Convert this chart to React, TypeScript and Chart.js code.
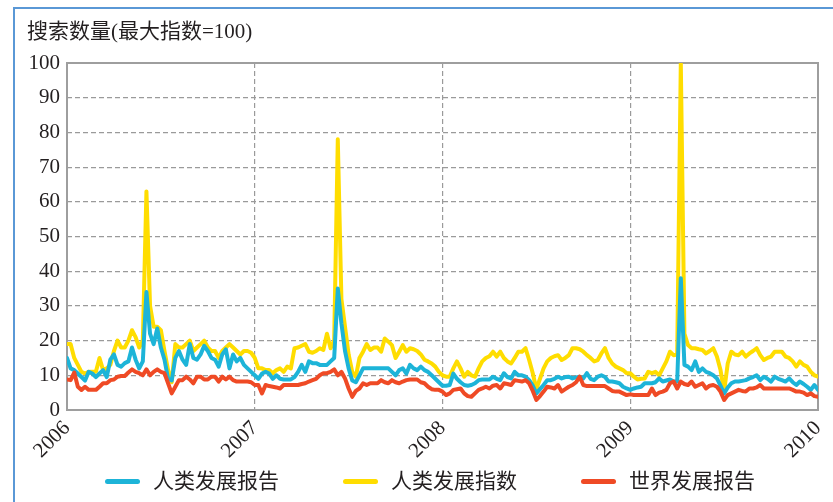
import { useEffect, useRef } from 'react';
import { Chart, registerables } from 'chart.js';
Chart.register(...registerables);

// ---- data (weekly, Jan 2006 .. Jan 2010, 209 weeks) ----
const yearTicks = ['2006', '2007', '2008', '2009', '2010'];
const weeksPerYear = 52;

const seriesNames = ['人类发展报告', '人类发展指数', '世界发展报告'];
const seriesColors = ['#1db4d8', '#ffdd00', '#ef4a25'];

// 人类发展报告
const hdrReport = [
  15, 12, 11.5, 10.5, 9.5, 8.5, 11, 10.5, 9.5, 10.5,
  11.5, 9.5, 14.5, 16, 13, 12.5, 13.5, 14, 18, 14.5,
  12, 14, 34, 22, 19, 23.5, 18, 14.5, 9, 8.5,
  15, 17, 14.5, 13, 19, 15, 14.5, 16, 18.5, 17,
  15, 14.5, 12.5, 16, 17.5, 12, 16, 14, 15, 13,
  12, 11, 10,
  9, 10.5, 11, 10.5, 9, 10, 9, 8.8, 8.8, 8.8,
  9.5, 11, 13, 11, 14, 13.5, 13.5, 13, 13, 13,
  14, 15, 35, 25, 17, 12, 8.5, 8, 10, 12,
  12, 12, 12, 12, 12, 12, 12, 11, 10, 11.5,
  12, 10.5, 13, 12, 11.5, 12.5, 11.5, 11, 10, 9,
  8, 7,
  7, 7.2, 10.5, 9, 8, 7.2, 7, 7.2, 7.7, 8.6,
  8.8, 8.8, 8.8, 9.6, 9, 8.6, 10.6, 9.5, 9.1, 11,
  10, 10, 9.6, 8.6, 7, 4.8, 6, 7.2, 8.6, 8.6,
  9, 9.6, 9.1, 9.5, 9.6, 9.1, 9.4, 9.6, 9.1, 10.6,
  9, 8.6, 9.6, 10, 9.5, 8.2, 8.2, 8, 7.7, 6.7,
  6.2, 5.8,
  6.2, 6.5, 6.7, 7.7, 7.7, 7.7, 8, 9.1, 8.2, 8.5,
  8.8, 8.2, 8.2, 38, 13, 12.5, 11.5, 14, 11, 12,
  11, 10.6, 10, 9.1, 7, 4.8, 6.5, 7.7, 8.2, 8.2,
  8.4, 8.6, 9.1, 9.5, 10, 8.6, 9.6, 9, 8.2, 9.6,
  9, 8.6, 8.2, 9.1, 8, 7.2, 8.2, 7.5, 6.7, 5.8,
  7.2, 5.8,
];

// 人类发展指数
const hdiIndex = [
  19, 19, 15, 13, 11, 10.5, 11, 11, 11, 15,
  11.5, 12, 13, 17, 20, 18, 18, 20, 23, 21,
  18, 20, 63, 30, 24, 24, 23, 17, 11.5, 8,
  19, 18, 18, 19, 20, 17, 18, 19, 20, 18,
  17, 17, 15, 17, 18, 19, 18, 17, 16, 17,
  17, 16.5, 15,
  12, 12, 11.5, 11.5, 10.6, 11.5, 12, 11, 12.5, 12,
  17.8, 18, 18.5, 19, 16.8, 16.5, 17, 17.8, 17.3, 22,
  17.8, 20, 78, 32, 24, 16, 11, 9.6, 15, 16.8,
  19, 17.3, 18, 18, 16.8, 20.6, 19.7, 18.7, 15, 16.8,
  18.7, 16.8, 17.8, 17.5, 17, 16, 14.5, 14, 13.4, 12.5,
  11, 10,
  9.6, 9.6, 12, 14, 12, 9.6, 11, 10, 9.6, 12,
  14, 15, 15.5, 16.8, 15.4, 16.8, 15, 14, 13.4, 15,
  16.8, 16.8, 17.8, 14.4, 10.6, 6, 9, 12, 14, 15,
  15.5, 15.8, 14.4, 15, 15.8, 17.8, 17.8, 17.5, 16.8, 15.8,
  15, 14, 14.4, 16.3, 17.8, 15, 13.4, 12.5, 12, 11.5,
  10.6, 10.6,
  9.6, 8.8, 9, 9.1, 11, 10.6, 11, 10, 12, 14,
  16.8, 15.8, 16, 100, 22, 18.7, 17.8, 17.8, 17.5, 17.3,
  16.3, 17, 17.8, 15.4, 11.5, 5.3, 13.4, 16.8, 16, 15.8,
  16.8, 15.4, 16.3, 17, 17.8, 15.8, 14.4, 15, 15.4, 16.8,
  16.8, 16.8, 15.4, 15, 14, 12.5, 14, 13, 12.5, 11,
  10, 9.6,
];

// 世界发展报告
const wdrReport = [
  8.8, 8.6, 10.8, 6.7, 5.8, 6.7, 5.8, 5.8, 5.8, 6.7,
  7.7, 7.7, 8.6, 8.8, 9.6, 9.8, 9.8, 10.8, 11.7, 11,
  10.6, 10, 11.7, 10, 11, 11.7, 11, 10.6, 7.7, 4.8,
  6.7, 8.6, 8.6, 9.6, 8.8, 7.7, 9.6, 9.6, 8.8, 8.8,
  9.6, 9.6, 8.2, 9.6, 8.8, 9.6, 8.6, 8.2, 8.2, 8.2,
  8.2, 8, 7.2,
  7.2, 4.8, 7.2, 6.9, 6.7, 6.5, 6.2, 7.2, 7.2, 7.2,
  7.2, 7.2, 7.5, 7.7, 8.2, 8.6, 9, 10, 10.6, 10.6,
  11, 11.7, 10, 11, 9.1, 6.2, 3.8, 5.5, 6.2, 7.7,
  7.2, 7.7, 7.7, 7.7, 8.6, 8, 7.7, 8.6, 8, 7.7,
  8.2, 8.6, 8.8, 8.8, 8.8, 8, 7.7, 6.7, 6, 5.8,
  5.8, 5.3,
  4.3, 4.8, 5.8, 6, 6.2, 4.8, 4, 3.8, 4.8, 5.8,
  6.2, 6.7, 6.2, 7, 7.2, 6.2, 7.7, 7.5, 7.2, 8.6,
  8.4, 8.2, 8.6, 7.7, 5.5, 2.9, 4, 5.3, 6.7, 6.5,
  6.2, 7.2, 5.3, 6, 6.7, 7.2, 8, 9.6, 7.2, 6.9,
  6.9, 6.9, 6.9, 6.9, 6.9, 6.2, 5.5, 5.3, 5.3, 4.8,
  4.3, 4.5,
  4.3, 4.3, 4.3, 4.3, 4.3, 6.2, 4.3, 5, 5.3, 5.8,
  7.7, 8.2, 6.2, 8.2, 7.5, 7.2, 8.2, 6.7, 7.2, 7.7,
  6.2, 7, 7.2, 6.7, 5.3, 2.9, 4.3, 4.8, 5.3, 5.8,
  5.5, 5.3, 6.2, 6.2, 6.5, 7.2, 6.2, 6.2, 6.2, 6.2,
  6.2, 6.2, 6.2, 6.2, 5.8, 5.3, 5.3, 5, 4.3, 4.8,
  4, 3.8,
];

const yTicks = [0, 10, 20, 30, 40, 50, 60, 70, 80, 90, 100];
const yTitle = '搜索数量(最大指数=100)';

const seriesValues = [hdrReport, hdiIndex, wdrReport];
const drawOrder = [1, 2, 0]; // red on top, then blue, yellow at bottom

const SERIF = "'Liberation Serif', 'Times New Roman', 'Noto Sans CJK SC', serif";
const TEXT_COLOR = '#231f20';

const frameBox = {
  id: 'frameBox',
  beforeDatasetsDraw(chart: any) {
    const { ctx, chartArea } = chart;
    const { left, top, right, bottom } = chartArea;
    ctx.save();
    ctx.strokeStyle = '#9e9e9e';
    ctx.lineWidth = 2;
    ctx.setLineDash([]);
    ctx.strokeRect(left, top, right - left, bottom - top);
    ctx.restore();
  },
};

export default function App() {
  const ref = useRef<HTMLCanvasElement>(null);

  useEffect(() => {
    document.body.style.margin = '0';
    const canvas = ref.current;
    if (!canvas) return;
    const chart = new Chart(canvas, {
      type: 'line',
      data: {
        datasets: seriesNames.map((name, s) => ({
          label: name,
          data: seriesValues[s].map((v, i) => ({ x: i, y: v })),
          borderColor: seriesColors[s],
          backgroundColor: seriesColors[s],
          borderWidth: 4,
          pointRadius: 0,
          pointHoverRadius: 0,
          tension: 0,
          borderJoinStyle: 'round' as const,
          borderCapStyle: 'round' as const,
          order: drawOrder[s],
        })),
      },
      options: {
        animation: false,
        responsive: false,
        events: [],
        layout: { padding: { left: 0, right: 15, top: 63, bottom: 32 } },
        plugins: {
          legend: { display: false },
          tooltip: { enabled: false },
          title: { display: false },
        },
        scales: {
          x: {
            type: 'linear',
            min: 0,
            max: weeksPerYear * (yearTicks.length - 1),
            afterFit: (scale: any) => {
              scale.height = 60;
              scale.paddingLeft = 0;
              scale.paddingRight = 0;
            },
            afterBuildTicks: (scale: any) => {
              scale.ticks = yearTicks.map((_, k) => ({ value: k * weeksPerYear }));
            },
            ticks: {
              autoSkip: false,
              maxRotation: 45,
              minRotation: 45,
              padding: 6,
              color: TEXT_COLOR,
              font: { family: SERIF, size: 21 },
              callback: (v: any) => yearTicks[Math.round(Number(v) / weeksPerYear)] ?? '',
            },
            grid: { color: '#9a9a9a', lineWidth: 1.2, drawTicks: false },
            border: { display: false, dash: [5, 3] },
          },
          y: {
            min: 0,
            max: 100,
            afterFit: (scale: any) => {
              scale.width = 67;
              scale.paddingTop = 0;
              scale.paddingBottom = 0;
            },
            afterBuildTicks: (scale: any) => {
              scale.ticks = yTicks.map((v) => ({ value: v }));
            },
            ticks: {
              padding: 7,
              color: TEXT_COLOR,
              font: { family: SERIF, size: 21 },
            },
            grid: { color: '#9a9a9a', lineWidth: 1.2, drawTicks: false },
            border: { display: false, dash: [5, 3] },
          },
        },
      },
      plugins: [frameBox],
    });
    return () => chart.destroy();
  }, []);

  return (
    <div
      style={{
        position: 'relative',
        width: 833,
        height: 502,
        background: '#ffffff',
        overflow: 'hidden',
        fontFamily: SERIF,
        color: TEXT_COLOR,
      }}
    >
      <div
        style={{
          position: 'absolute',
          left: 13,
          top: 7,
          right: -10,
          bottom: -10,
          borderLeft: '2px solid #5a98d6',
          borderTop: '2px solid #5a98d6',
        }}
      />
      <canvas ref={ref} width={833} height={502} style={{ position: 'absolute', left: 0, top: 0 }} />
      <div
        style={{
          position: 'absolute',
          left: 27,
          top: 20,
          fontSize: 21,
          lineHeight: '22px',
          whiteSpace: 'nowrap',
        }}
      >
        {yTitle}
      </div>
      <div
        style={{
          position: 'absolute',
          left: 105,
          top: 470,
          display: 'flex',
          alignItems: 'center',
          gap: 64,
          fontSize: 21,
          lineHeight: '22px',
          whiteSpace: 'nowrap',
        }}
      >
        {seriesNames.map((name, s) => (
          <div key={name} style={{ display: 'flex', alignItems: 'center' }}>
            <span
              style={{
                display: 'inline-block',
                width: 35,
                height: 5,
                borderRadius: 3,
                background: seriesColors[s],
                marginRight: 13,
              }}
            />
            <span>{name}</span>
          </div>
        ))}
      </div>
    </div>
  );
}
